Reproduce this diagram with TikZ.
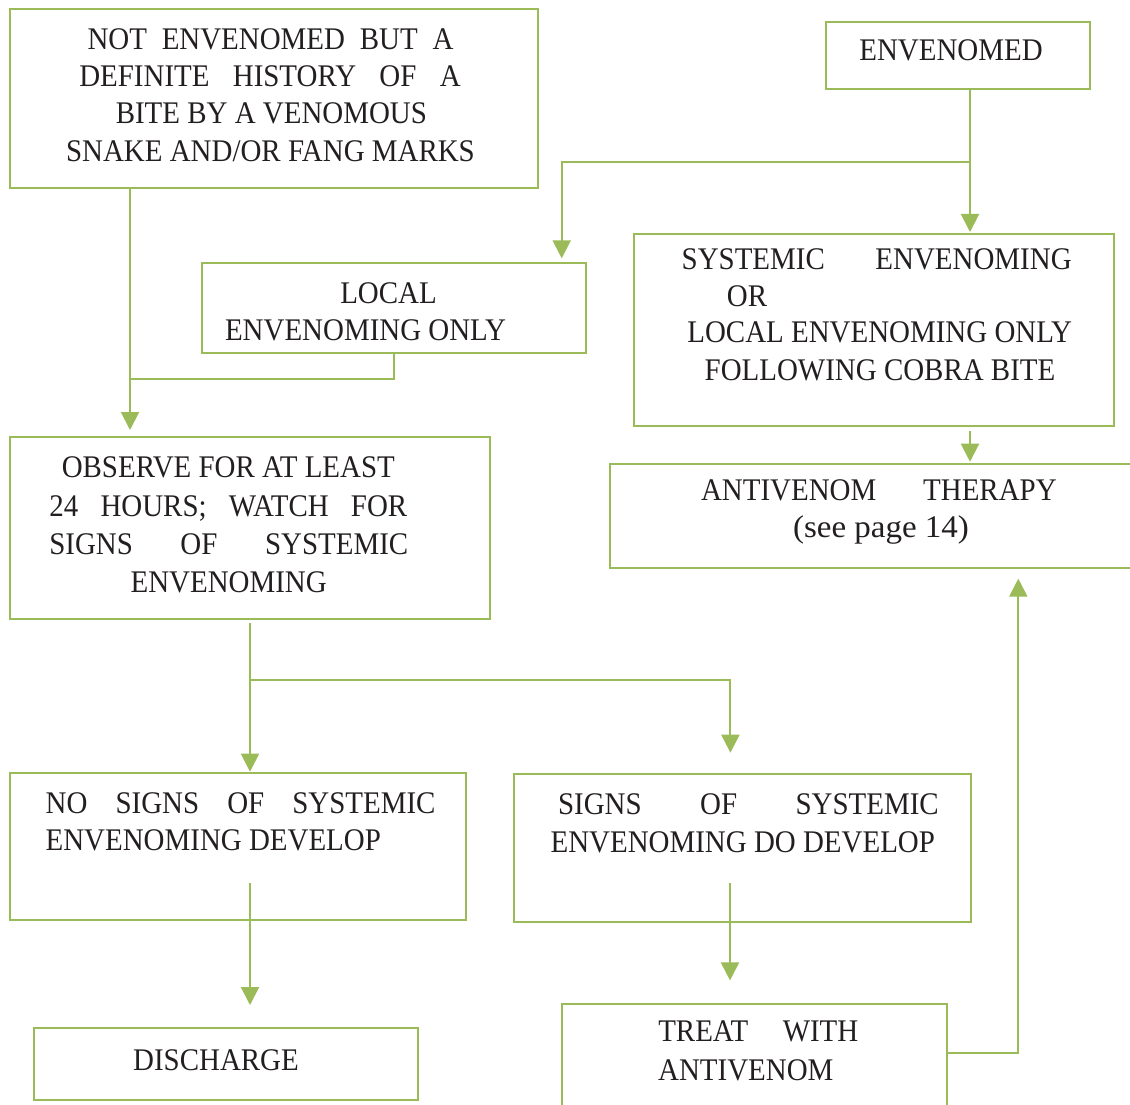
\documentclass[tikz,border=0pt]{standalone}
\usepackage{fontspec}
\setmainfont{Liberation Serif}[FakeStretch=0.92]
\usetikzlibrary{arrows.meta,fit}
\definecolor{flowgreen}{RGB}{155,187,89}
\definecolor{ink}{RGB}{35,31,32}
\newdimen\pxu \pxu=0.75pt
% a line of text whose word spaces are stretched to a given width (in px)
\newcommand\spreadline[2]{\makebox[#1\pxu][s]{#2}}
\begin{document}
\begin{tikzpicture}[
  x=0.75pt, y=-0.75pt,
  box/.style={draw=flowgreen, line width=1.5pt, inner sep=0pt, outer sep=0pt},
  txt/.style={anchor=base, inner sep=0pt, text=ink, font=\fontsize{23.6pt}{28pt}\selectfont},
  conn/.style={draw=flowgreen, line width=1.5pt},
  arr/.style={conn, -{Triangle[width=13.5pt,length=13.5pt]}}
]
\useasboundingbox (0,0) rectangle (1130,1105);
\fill[white] (0,0) rectangle (1130,1105);
\clip (0,0) rectangle (1130,1105);

% boxes
\node[box, fit={(9.5,9)(538,188)}] (bite) {};
\node[box, fit={(826,22)(1090,89)}] (env) {};
\node[box, fit={(202,263)(586,353)}] (local) {};
\node[box, fit={(634,234)(1114,425.5)}] (sys) {};
\node[box, fit={(610,464)(1160,568)}] (anti) {};
\node[box, fit={(9.5,437)(490,619.3)}] (obs) {};
\node[box, fit={(9.5,772.5)(466,920)}] (nosig) {};
\node[box, fit={(514,774)(970.5,921.5)}] (sig) {};
\node[box, fit={(34,1028)(418,1100)}] (dis) {};
\node[box, fit={(562,1004)(946.5,1140)}] (treat) {};

% box texts
\node[txt] (bite1) at (270.5,49.5) {\spreadline{366}{NOT ENVENOMED BUT A}};
\node[txt] (bite2) at (270,86.7) {\spreadline{381.4}{DEFINITE HISTORY OF A}};
\node[txt] (bite3) at (271.4,124) {BITE BY A VENOMOUS};
\node[txt] (bite4) at (270.5,161.7) {SNAKE AND/OR FANG MARKS};

\node[txt] (env1) at (951,61) {ENVENOMED};

\node[txt] (local1) at (388.5,303.5) {LOCAL};
\node[txt] (local2) at (365.5,340.5) {ENVENOMING ONLY};

\node[txt] (sys1) at (876.7,269.3) {\spreadline{390}{SYSTEMIC ENVENOMING}};
\node[txt] (sys2) at (747,306) {OR};
\node[txt] (sys3) at (879.7,342.7) {LOCAL ENVENOMING ONLY};
\node[txt] (sys4) at (880,380.7) {FOLLOWING COBRA BITE};

\node[txt] (anti1) at (878.9,500) {\spreadline{355.7}{ANTIVENOM THERAPY}};
\node[txt] (anti2) at (881,537) {\scalebox{1.14}[1]{(see page 14)}};

\node[txt] (obs1) at (228.3,477.7) {OBSERVE FOR AT LEAST};
\node[txt] (obs2) at (228.3,516) {\spreadline{358}{24 HOURS; WATCH FOR}};
\node[txt] (obs3) at (228.8,554) {\spreadline{359}{SIGNS OF SYSTEMIC}};
\node[txt] (obs4) at (228.7,592.3) {ENVENOMING};

\node[txt] (nosig1) at (240.6,813.3) {\spreadline{390}{NO SIGNS OF SYSTEMIC}};
\node[txt] (nosig2) at (213.3,850.7) {ENVENOMING DEVELOP};

\node[txt] (sig1) at (748.4,814.3) {\spreadline{380.7}{SIGNS OF SYSTEMIC}};
\node[txt] (sig2) at (742.8,852.3) {ENVENOMING DO DEVELOP};

\node[txt] (dis1) at (216,1070) {DISCHARGE};

\node[txt] (treat1) at (758.3,1041.7) {\spreadline{200}{TREAT WITH}};
\node[txt] (treat2) at (745.8,1080) {ANTIVENOM};

% connector bends and free ends
\coordinate (c1) at (130,379);
\coordinate (c2) at (394,379);
\coordinate (c3) at (970,161.7);
\coordinate (c4) at (561.7,161.7);
\coordinate (c5) at (250,680);
\coordinate (c6) at (730.4,680);
\coordinate (c7) at (250,883.3);
\coordinate (c8) at (730,883.3);
\coordinate (c9) at (1018.3,1052.5);

% connectors
\draw[arr, shorten >=5.25pt] (bite.south -| c1) -- (obs.north -| c1);
\draw[conn] (local.south -| c2) -- (c2) -- (c1);
\draw[arr, shorten >=1.5pt] (env.south -| c3) -- (sys.north -| c3);
\draw[arr, shorten >=3.5pt] (c3) -- (c4) -- (local.north -| c4);
\draw[arr, shorten <=4.1pt, shorten >=1.7pt] (sys.south -| c3) -- (anti.north -| c3);
\draw[arr, shorten <=3pt, shorten >=0.6pt] (obs.south -| c5) -- (nosig.north -| c5);
\draw[arr, shorten >=16pt] (c5) -- (c6) -- (sig.north -| c6);
\draw[arr, shorten >=17.25pt] (c7) -- (dis.north -| c7);
\draw[arr, shorten >=17.7pt] (c8) -- (treat.north -| c8);
\draw[arr, shorten >=8pt] (treat.east |- c9) -- (c9) -- (anti.south -| c9);
\end{tikzpicture}
\end{document}
